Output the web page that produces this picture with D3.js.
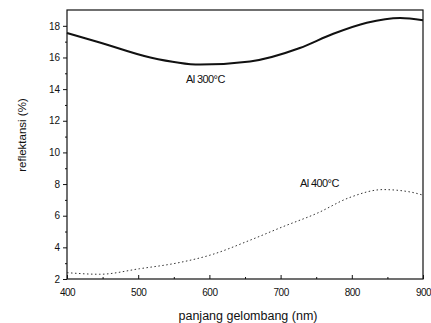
<!DOCTYPE html>
<html><head><meta charset="utf-8">
<script src="https://cdn.jsdelivr.net/npm/d3@7"></script>
<style>body{margin:0;background:#fff}svg{display:block}text{font-family:"Liberation Sans",Arial,sans-serif}</style>
</head><body><svg id="c" width="431" height="323"></svg>
<script>
const wl300 = [400,446,517,587,657,727,774,821,868,900];
const r300  = [17.55,16.95,16.0,15.55,15.75,16.6,17.5,18.2,18.5,18.35];
const wl400 = [400,446,502,559,604,657,703,751,797,844,882,900];
const r400  = [2.4,2.3,2.65,3.05,3.55,4.45,5.3,6.15,7.15,7.65,7.5,7.3];
const xTicks = [400,500,600,700,800,900];
const yTicks = [2,4,6,8,10,12,14,16,18];
const labels = ["Al 300°C","Al 400°C"];

const svg = d3.select("#c");
const L=67,R=423,T=10,B=279;
const x = d3.scaleLinear().domain([400,900]).range([L,R]);
const y = d3.scaleLinear().domain([2,19]).range([B,T]);

svg.append("rect").attr("x",L).attr("y",T).attr("width",R-L).attr("height",B-T)
  .attr("fill","none").attr("stroke","#111").attr("stroke-width",1.2);

const xa = svg.append("g").attr("transform",`translate(0,${B})`)
  .call(d3.axisBottom(x).tickValues(xTicks).tickSize(-4).tickPadding(10).tickFormat(d3.format("d")));
const xm = svg.append("g").attr("transform",`translate(0,${B})`)
  .call(d3.axisBottom(x).tickValues(d3.range(450,900,100)).tickSize(-2).tickFormat(""));
const ya = svg.append("g").attr("transform",`translate(${L},0)`)
  .call(d3.axisLeft(y).tickValues(yTicks).tickSize(4).tickPadding(3));
const ym = svg.append("g").attr("transform",`translate(${L},0)`)
  .call(d3.axisLeft(y).tickValues(d3.range(3,19,2)).tickSize(2).tickFormat(""));
[xa,xm,ya,ym].forEach(g=>{g.select(".domain").remove();g.selectAll("line").attr("stroke","#111");});
xa.selectAll("text").attr("font-size",10).attr("fill","#111").attr("letter-spacing","-0.5");
ya.selectAll("text").attr("font-size",10).attr("fill","#111");

const line = d3.line().x(d=>x(d[0])).y(d=>y(d[1])).curve(d3.curveMonotoneX);
svg.append("path").datum(wl300.map((w,i)=>[w,r300[i]])).attr("d",line)
  .attr("fill","none").attr("stroke","#111").attr("stroke-width",2);
svg.append("path").datum(wl400.map((w,i)=>[w,r400[i]])).attr("d",line)
  .attr("fill","none").attr("stroke","#333").attr("stroke-width",1).attr("stroke-dasharray","1.5,2.5");

svg.append("text").attr("x",186).attr("y",83).attr("font-size",11).attr("letter-spacing","-0.6").attr("fill","#111").text(labels[0]);
svg.append("text").attr("x",300).attr("y",187).attr("font-size",11).attr("letter-spacing","-0.6").attr("fill","#111").text(labels[1]);

svg.append("text").attr("x",248).attr("y",320).attr("text-anchor","middle").attr("font-size",12.5).attr("fill","#111").text("panjang gelombang (nm)");
svg.append("text").attr("transform","translate(26,135) rotate(-90)").attr("text-anchor","middle").attr("font-size",11.5).attr("fill","#111").text("reflektansi (%)");
</script></body></html>
